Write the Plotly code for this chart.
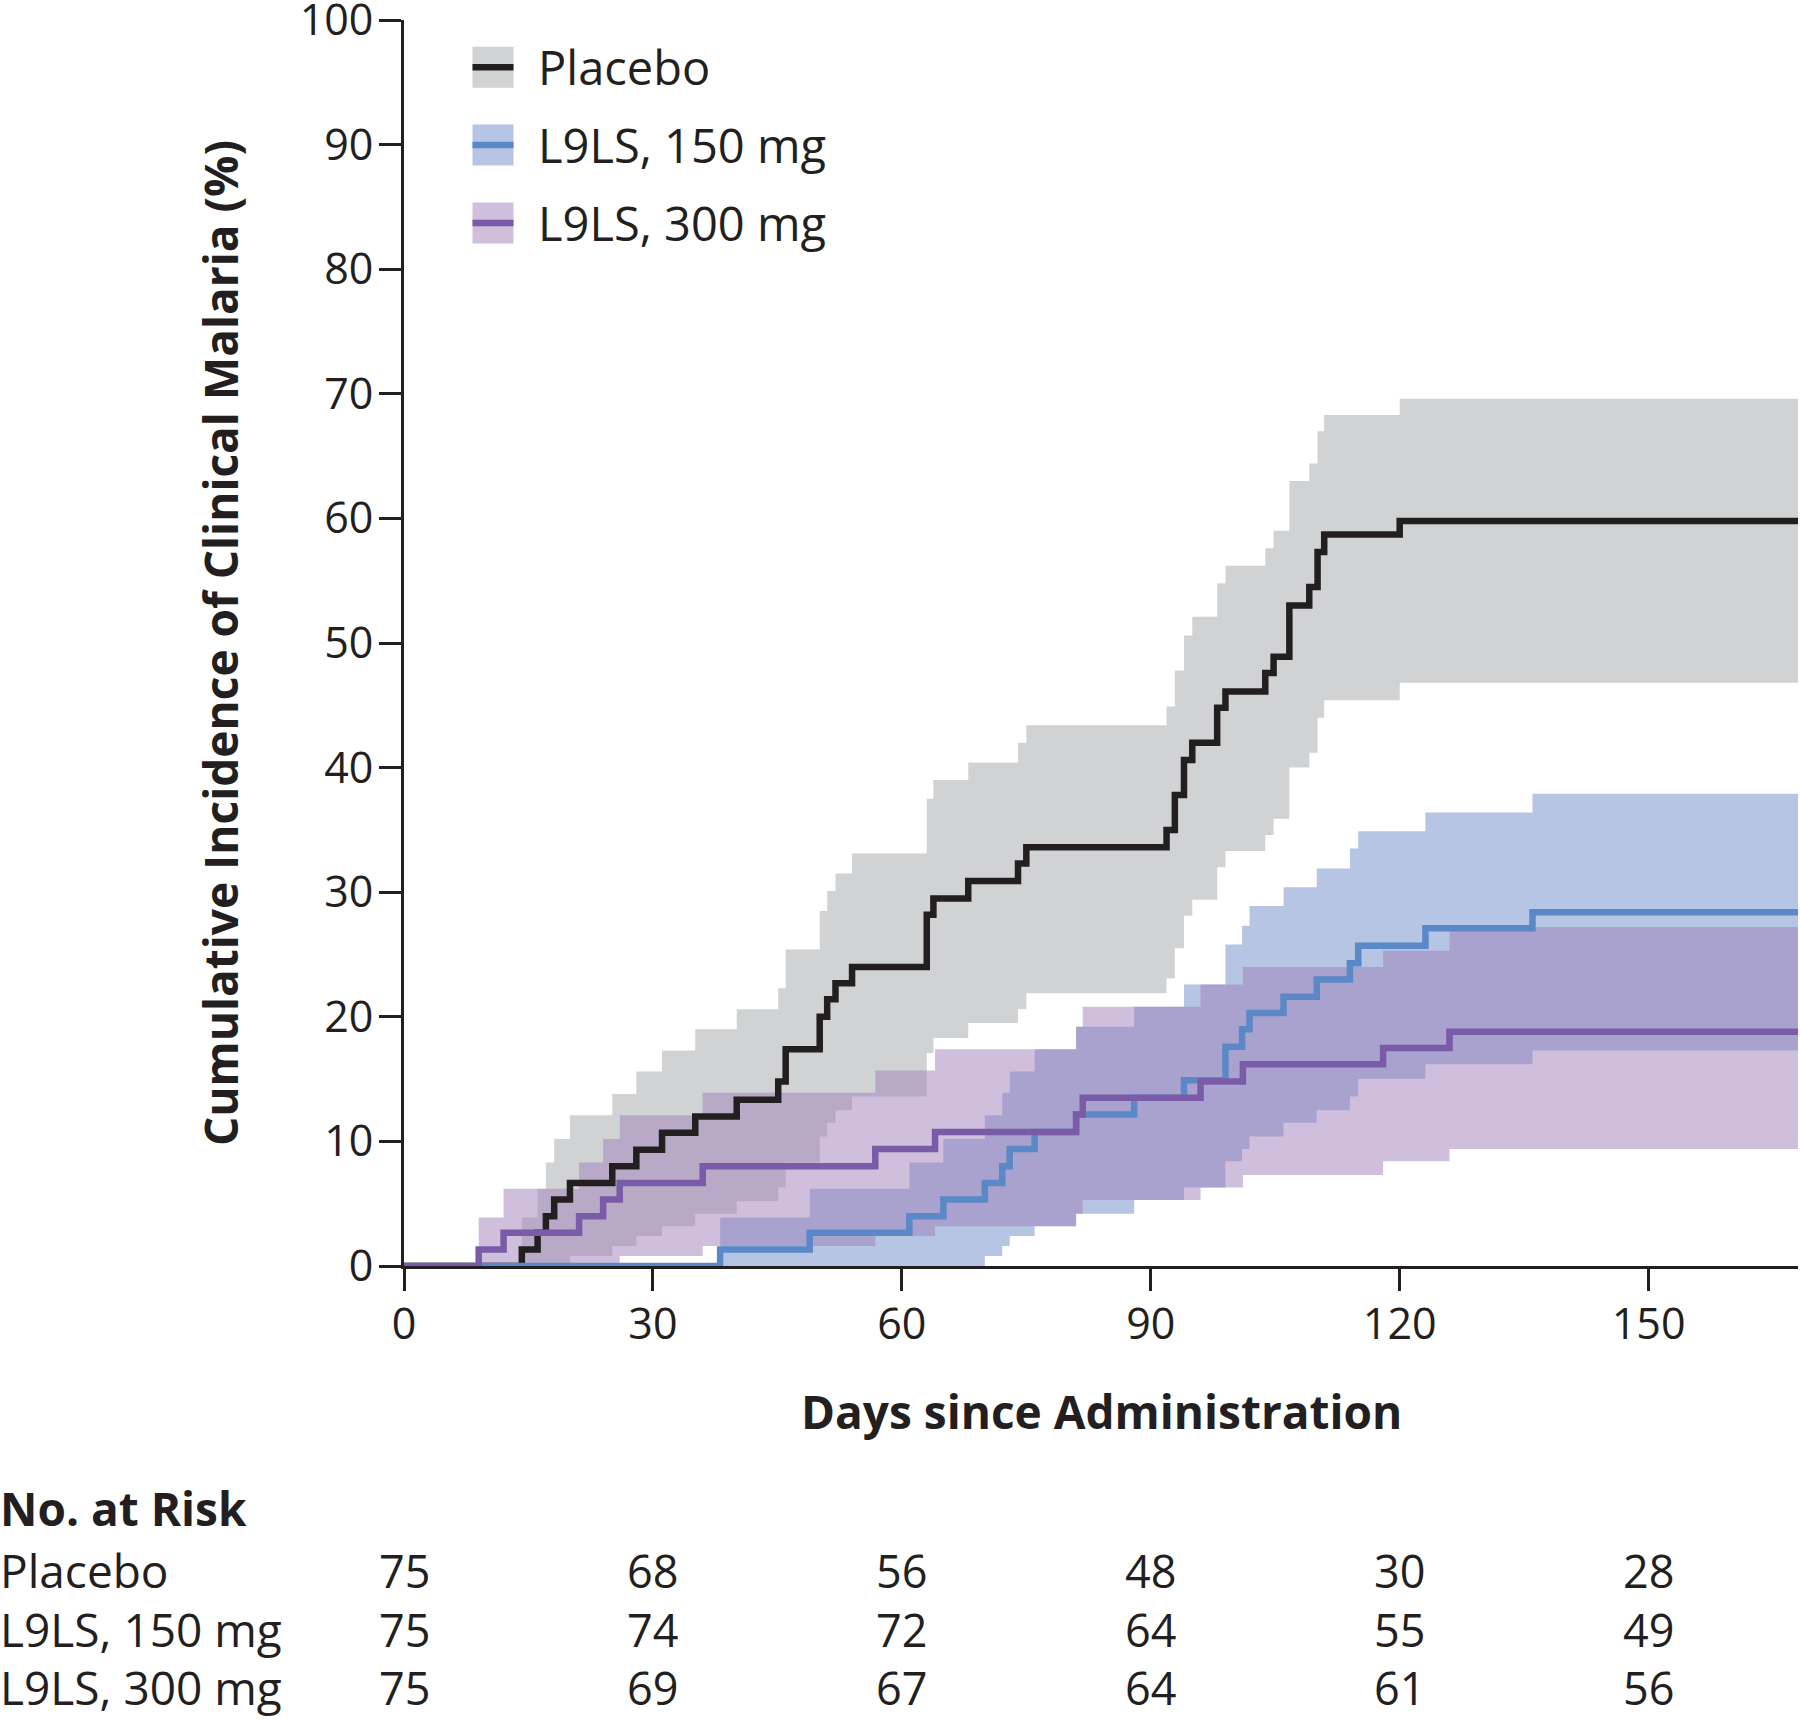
import plotly.graph_objects as go

# ---------------- data ----------------
END_DAY = 168

placebo_days = [0, 14.2, 16.1, 17.1, 18.1, 20.0, 25.1, 28.0, 31.1, 35.1, 40.1, 45.1, 46.0, 50.1, 51.0, 52.0,
                54.0, 63.0, 63.8, 68.0, 74.0, 75.0, 91.9, 92.9, 94.0, 95.0, 98.0, 99.0, 103.8, 104.8, 106.7,
                109.1, 110.1, 110.9, 120.0]
placebo_est = [0, 1.33, 2.67, 4.0, 5.33, 6.67, 8.0, 9.33, 10.7, 12.0, 13.35, 14.8, 17.4, 20.0, 21.4, 22.7,
               24.0, 28.2, 29.5, 30.9, 32.3, 33.6, 35.0, 37.8, 40.6, 42.0, 44.8, 46.1, 47.6, 48.9, 53.0,
               54.5, 57.3, 58.7, 59.8]
placebo_lo = [0, 0, 0, 0, 0, 0.8, 1.6, 2.4, 3.2, 4.2, 5.2, 6.3, 8.3, 10.4, 11.5, 12.5,
              13.6, 17.1, 18.3, 19.5, 20.6, 21.9, 23.1, 25.5, 28.1, 29.4, 32.0, 33.3, 34.6, 35.9, 40.0,
              41.2, 44.0, 45.4, 46.8]
placebo_hi = [0, 3.9, 6.2, 8.3, 10.2, 12.1, 13.8, 15.6, 17.3, 19.0, 20.6, 22.3, 25.4, 28.5, 30.1, 31.5,
              33.1, 37.5, 39.0, 40.4, 42.0, 43.4, 44.9, 47.8, 50.6, 52.1, 54.8, 56.2, 57.6, 59.0, 63.0,
              64.4, 67.0, 68.3, 69.6]

l150_days = [0, 38.1, 48.9, 60.9, 65.0, 70.0, 72.1, 73.0, 76.0, 81.0, 88.0, 94.0, 99.0, 101.0, 101.9,
             106.0, 110.0, 114.0, 115.0, 123.1, 136.0]
l150_est = [0, 1.33, 2.67, 4.0, 5.33, 6.67, 8.0, 9.4, 10.76, 12.15, 13.5, 14.9, 17.6, 19.0, 20.3,
            21.6, 23.0, 24.3, 25.7, 27.1, 28.4]
l150_lo = [0, 0, 0, 0, 0, 0.8, 1.6, 2.4, 3.2, 4.2, 5.3, 6.3, 8.4, 9.4, 10.4,
           11.5, 12.5, 13.6, 15.0, 16.2, 17.3]
l150_hi = [0, 3.9, 6.2, 8.3, 10.2, 12.1, 13.9, 15.6, 17.4, 19.2, 20.8, 22.6, 25.8, 27.3, 28.9,
           30.4, 31.9, 33.5, 34.9, 36.4, 37.9]

l300_days = [0, 9.0, 12.0, 21.1, 24.0, 26.0, 36.0, 56.8, 64.0, 81.0, 81.8, 96.0, 101.1, 118.0, 126.0]
l300_est = [0, 1.33, 2.67, 4.0, 5.33, 6.67, 8.0, 9.4, 10.76, 12.15, 13.5, 14.8, 16.2, 17.5, 18.8]
l300_lo = [0, 0, 0, 0, 0, 0.8, 1.6, 2.4, 3.2, 4.2, 5.3, 6.3, 7.3, 8.4, 9.4]
l300_hi = [0, 3.9, 6.2, 8.3, 10.2, 12.1, 13.9, 15.7, 17.4, 19.2, 20.8, 22.6, 24.0, 25.3, 27.2]

group_names = ["Placebo", "L9LS, 150 mg", "L9LS, 300 mg"]

risk_days = [0, 30, 60, 90, 120, 150]
risk_placebo = [75, 68, 56, 48, 30, 28]
risk_150 = [75, 74, 72, 64, 55, 49]
risk_300 = [75, 69, 67, 64, 61, 56]

x_ticks = [0, 30, 60, 90, 120, 150]
y_ticks = [0, 10, 20, 30, 40, 50, 60, 70, 80, 90, 100]

# ---------------- styling ----------------
W, H = 1800, 1720
ML, MR, MT, MB = 404, 2, 19.5, 453.5
PW, PH = W - ML - MR, H - MT - MB
FONT = "Open Sans"
INK = "#231F20"
LW = 6.5

line_cols = ["#231F20", "#5B88C6", "#7A5BA7"]
band_cols = ["#D1D2D4", "rgba(120,150,204,0.55)", "rgba(159,127,185,0.5)"]
legend_band = ["#D1D2D4", "#B5C5E3", "#CFBFDC"]


def px(fx):
    """page pixel x -> paper coordinate"""
    return (fx - ML) / PW


def py(fy):
    """page pixel y -> paper coordinate"""
    return (H - MB - fy) / PH


def ext(days, vals):
    return list(days) + [END_DAY], list(vals) + [vals[-1]]


groups = [
    (placebo_days, placebo_est, placebo_lo, placebo_hi),
    (l150_days, l150_est, l150_lo, l150_hi),
    (l300_days, l300_est, l300_lo, l300_hi),
]

fig = go.Figure()

# confidence bands
for i, (d, e, lo, hi) in enumerate(groups):
    xd, ylo = ext(d, lo)
    _, yhi = ext(d, hi)
    fig.add_trace(go.Scatter(x=xd, y=ylo, mode="lines", line=dict(width=0, shape="hv"),
                             showlegend=False, hoverinfo="skip"))
    fig.add_trace(go.Scatter(x=xd, y=yhi, mode="lines", line=dict(width=0, shape="hv"),
                             fill="tonexty", fillcolor=band_cols[i],
                             showlegend=False, hoverinfo="skip"))

# estimate lines
for i, (d, e, lo, hi) in enumerate(groups):
    xd, ye = ext(d, e)
    fig.add_trace(go.Scatter(x=xd, y=ye, mode="lines", name=group_names[i],
                             line=dict(width=LW, color=line_cols[i], shape="hv"),
                             showlegend=False))

shapes = []
annotations = []

# manual legend
leg_rows = [66.7, 144.7, 222.7]
for i, cy in enumerate(leg_rows):
    shapes.append(dict(type="rect", xref="paper", yref="paper",
                       x0=px(472.5), x1=px(513.5), y0=py(cy + 20.5), y1=py(cy - 20.5),
                       fillcolor=legend_band[i], line=dict(width=0), layer="above"))
    shapes.append(dict(type="line", xref="paper", yref="paper",
                       x0=px(472.5), x1=px(513.5), y0=py(cy), y1=py(cy),
                       line=dict(color=line_cols[i], width=LW), layer="above"))
    annotations.append(dict(text=group_names[i], xref="paper", yref="paper",
                            x=px(536), y=py(cy), xanchor="left", yanchor="middle",
                            showarrow=False, font=dict(family=FONT, size=47, color=INK)))

# axis titles
annotations.append(dict(text="<b>Cumulative Incidence of Clinical Malaria (%)</b>", xref="paper", yref="paper",
                        x=px(220), y=py(643), textangle=-90, xanchor="center", yanchor="middle",
                        showarrow=False, font=dict(family=FONT, size=46, color=INK)))
annotations.append(dict(text="<b>Days since Administration</b>", xref="paper", yref="paper",
                        x=px(1101), y=py(1412), xanchor="center", yanchor="middle",
                        showarrow=False, font=dict(family=FONT, size=46, color=INK)))

# number at risk table
annotations.append(dict(text="<b>No. at Risk</b>", xref="paper", yref="paper",
                        x=px(-2), y=py(1509), xanchor="left", yanchor="middle",
                        showarrow=False, font=dict(family=FONT, size=46, color=INK)))
risk_rows = [(group_names[0], risk_placebo, 1571), (group_names[1], risk_150, 1630),
             (group_names[2], risk_300, 1688)]
for name, vals, cy in risk_rows:
    annotations.append(dict(text=name, xref="paper", yref="paper", x=px(-2), y=py(cy),
                            xanchor="left", yanchor="middle", showarrow=False,
                            font=dict(family=FONT, size=46, color=INK)))
    for dday, v in zip(risk_days, vals):
        annotations.append(dict(text=str(v), xref="x", yref="paper", x=dday, y=py(cy),
                                xanchor="center", yanchor="middle", showarrow=False,
                                font=dict(family=FONT, size=45, color=INK)))

fig.update_layout(
    width=W, height=H, autosize=False,
    margin=dict(l=ML, r=MR, t=MT, b=MB, autoexpand=False),
    paper_bgcolor="white", plot_bgcolor="white",
    showlegend=False,
    shapes=shapes, annotations=annotations,
    font=dict(family=FONT, color=INK),
)
fig.update_xaxes(range=[0, END_DAY], tickvals=x_ticks, ticktext=[str(t) for t in x_ticks],
                 showgrid=False, zeroline=False, showline=True, linecolor=INK, linewidth=3,
                 ticks="outside", ticklen=22, tickwidth=3, tickcolor=INK,
                 tickfont=dict(family=FONT, size=43, color=INK), ticklabelstandoff=-4,
                 ticklabeloverflow="allow", automargin=False, layer="below traces")
fig.update_yaxes(range=[0, 100], tickvals=y_ticks, ticktext=[str(t) for t in y_ticks],
                 showgrid=False, zeroline=False, showline=True, linecolor=INK, linewidth=3,
                 ticks="outside", ticklen=22, tickwidth=3, tickcolor=INK,
                 tickfont=dict(family=FONT, size=43, color=INK), ticklabelstandoff=-3,
                 ticklabeloverflow="allow", automargin=False, layer="below traces")

# remove the browser's default 8px body margin so the figure fills the window exactly
fig.write_html("out.html", config={"displayModeBar": False},
               post_script="document.body.style.margin='0';document.body.style.overflow='hidden';")
